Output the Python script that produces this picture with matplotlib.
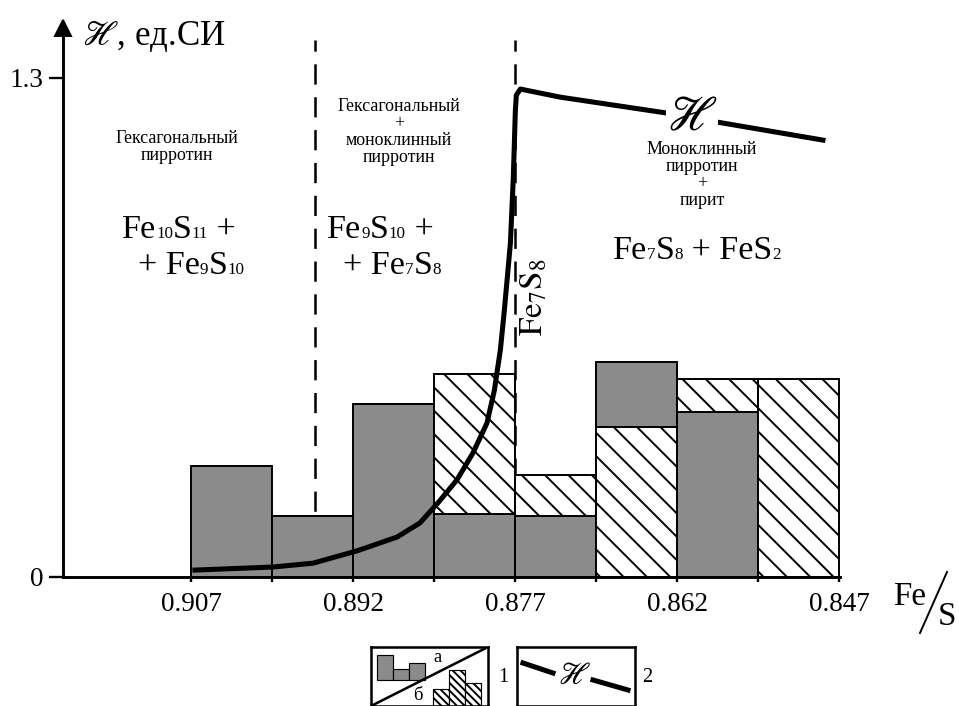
"""Pyrrhotite phases: magnetic susceptibility vs Fe/S with histogram."""
import re

import matplotlib

matplotlib.use("Agg")
import matplotlib.pyplot as plt
import numpy as np
from matplotlib.offsetbox import AnnotationBbox, HPacker, TextArea

# Fe/S bin edges (axis runs from high to low Fe/S)
bin_edges = [0.907, 0.8995, 0.892, 0.8845, 0.877, 0.8695, 0.862, 0.8545, 0.847]
tick_values = [0.907, 0.892, 0.877, 0.862, 0.847]
tick_labels = ["0.907", "0.892", "0.877", "0.862", "0.847"]

# histogram parts: "а" grey, "б" hatched
grey_part = [0.29, 0.16, 0.45, 0.164, 0.16, 0.17, 0.43, 0.0]
hatched_part = [0.0, 0.0, 0.0, 0.366, 0.105, 0.39, 0.085, 0.515]
grey_on_top = [False, False, False, False, False, True, False, False]

# susceptibility curve
curve_fe_s = [0.90667, 0.89944, 0.89574, 0.89167, 0.88796, 0.88583, 0.88417,
              0.88241, 0.88093, 0.87963, 0.87894, 0.87867, 0.87839, 0.87802,
              0.87746, 0.87719, 0.87700, 0.87691, 0.87654, 0.87287, 0.86287,
              0.85833, 0.84852]
curve_kappa = [0.018, 0.026, 0.036, 0.068, 0.104, 0.141, 0.193, 0.253, 0.323,
               0.401, 0.487, 0.539, 0.591, 0.695, 0.870, 1.042, 1.216, 1.255,
               1.271, 1.250, 1.208, 1.185, 1.138]

phase_bounds = [0.8956, 0.877]

# legend thumbnails
legend_grey = [25, 11, 17]
legend_hatched = [17, 36, 23]

GREY = "#8b8b8b"
W, H, DPI = 959, 706, 140


def chem(ax, xy, formula, size=17.5, ha=0.0):
    """Formula like 'Fe_10S_11 +' with small baseline subscripts."""
    areas = []
    for part in re.split(r"(_\d+)", formula):
        if not part:
            continue
        if part.startswith("_"):
            areas.append(TextArea(part[1:], textprops=dict(fontsize=size * 0.5)))
        else:
            areas.append(TextArea(part, textprops=dict(fontsize=size)))
    pack = HPacker(children=areas, align="baseline", pad=0, sep=0)
    ab = AnnotationBbox(pack, xy, xycoords="data", frameon=False, pad=0,
                        box_alignment=(ha, 0))
    ax.add_artist(ab)


def main() -> None:
    plt.rcParams["font.family"] = ["Liberation Serif", "DejaVu Serif"]
    plt.rcParams["mathtext.fontset"] = "stix"
    plt.rcParams["hatch.linewidth"] = 1.0

    fig = plt.figure(figsize=(W / DPI, H / DPI), dpi=DPI)
    ax = fig.add_axes([63 / W, 129 / H, 777 / W, 549 / H])
    ax.set_xlim(0.91889, 0.84694)
    ax.set_ylim(0, 1.43)

    edges = np.array(bin_edges)
    left = edges[:-1]
    width = edges[1:] - edges[:-1]
    grey = np.array(grey_part)
    hatched = np.array(hatched_part)
    on_top = np.array(grey_on_top)
    grey_bottom = np.where(on_top, hatched, 0)
    hatched_bottom = np.where(on_top, 0, grey)

    ax.bar(left, grey, width=width, bottom=grey_bottom, align="edge",
           color=GREY, edgecolor="black", linewidth=1.0, zorder=2)
    ax.bar(left, hatched, width=width, bottom=hatched_bottom, align="edge",
           color="white", edgecolor="black", linewidth=1.0, hatch="\\\\",
           zorder=2)

    for xb in phase_bounds:
        ax.plot([xb, xb], [0, 1.398], color="black", lw=1.3,
                dashes=(8, 5), zorder=1)

    ax.plot(curve_fe_s, curve_kappa, color="black", lw=2.6,
            solid_joinstyle="round", zorder=4)
    ax.text(0.86065, 1.195, r"$\mathscr{H}$", fontsize=25, ha="center",
            va="center", zorder=5,
            bbox=dict(fc="white", ec="none", pad=0.5))

    # axes styling
    for side in ("top", "right"):
        ax.spines[side].set_visible(False)
    for side in ("left", "bottom"):
        ax.spines[side].set_linewidth(1.5)
    ax.plot(0, 1, marker="^", color="black", ms=8, transform=ax.transAxes,
            clip_on=False, zorder=6)
    ax.set_xticks(tick_values)
    ax.set_xticklabels(tick_labels)
    ax.set_xticks(bin_edges, minor=True)
    ax.tick_params(axis="x", which="both", direction="out", length=2.5,
                   width=1.2, labelsize=14, pad=5)
    ax.set_yticks([0, 1.3])
    ax.set_yticklabels(["0", "1.3"])
    ax.tick_params(axis="y", direction="out", length=7, width=1.2,
                   labelsize=14, pad=3)

    small = dict(fontsize=9.2, ha="center", va="center", linespacing=1.0)
    ax.text(0.90833, 1.120, "Гексагональный\nпирротин", **small)
    ax.text(0.88778, 1.159, "Гексагональный\n+\nмоноклинный\nпирротин", **small)
    ax.text(0.85972, 1.047, "Моноклинный\nпирротин\n+\nпирит", **small)

    chem(ax, (0.91343, 0.865), "Fe_10S_11 +")
    chem(ax, (0.91194, 0.772), "+ Fe_9S_10")
    chem(ax, (0.89444, 0.865), "Fe_9S_10 +")
    chem(ax, (0.89296, 0.772), "+ Fe_7S_8")
    chem(ax, (0.86019, 0.811), "Fe_7S_8 + FeS_2", ha=0.5)
    ax.text(0.87524, 0.729, r"$\mathrm{Fe_{7}S_{8}}$", fontsize=17,
            rotation=90, ha="center", va="center")

    # axis titles
    fig.text(82 / W, 1 - 45 / H, r"$\mathscr{H}$, ед.СИ", fontsize=18,
             va="baseline", ha="left")
    fig.text(893 / W, 1 - 605 / H, "Fe", fontsize=17, va="baseline")
    fig.text(938 / W, 1 - 625 / H, "S", fontsize=17, va="baseline")
    fig.add_artist(plt.Line2D([920 / W, 947 / W], [1 - 633 / H, 1 - 572 / H],
                              color="black", lw=1.0))

    # legend 1: histogram parts
    lg1 = fig.add_axes([371 / W, 0, 117 / W, 59 / H])
    lg1.set_xlim(0, 117)
    lg1.set_ylim(0, 59)
    lg1.bar([6, 22, 38], legend_grey, width=16, bottom=26, align="edge",
            color=GREY, edgecolor="black", linewidth=0.6)
    lg1.bar([62, 78, 94], legend_hatched, width=16, align="edge",
            color="white", edgecolor="black", linewidth=0.6,
            hatch="\\\\\\\\\\\\")
    lg1.plot([0, 117], [0, 59], color="black", lw=1.3)
    lg1.text(66, 49, "а", fontsize=9.5, ha="center", va="center")
    lg1.text(47, 11, "б", fontsize=9.5, ha="center", va="center")

    # legend 2: curve
    lg2 = fig.add_axes([517 / W, 0, 118 / W, 59 / H])
    lg2.set_xlim(0, 118)
    lg2.set_ylim(0, 59)
    lg2.plot([6, 36], [43, 33], color="black", lw=2.6)
    lg2.plot([76, 111], [26, 16], color="black", lw=2.6)
    lg2.text(57, 30, r"$\mathscr{H}$", fontsize=16, ha="center", va="center")

    for lg in (lg1, lg2):
        lg.set_xticks([])
        lg.set_yticks([])
        for sp in lg.spines.values():
            sp.set_linewidth(1.3)

    fig.text(503 / W, 1 - 678 / H, "1", fontsize=10.5, ha="center",
             va="center")
    fig.text(647 / W, 1 - 678 / H, "2", fontsize=10.5, ha="center",
             va="center")

    fig.savefig("out.png", dpi=DPI)
    plt.close(fig)


if __name__ == "__main__":
    main()
